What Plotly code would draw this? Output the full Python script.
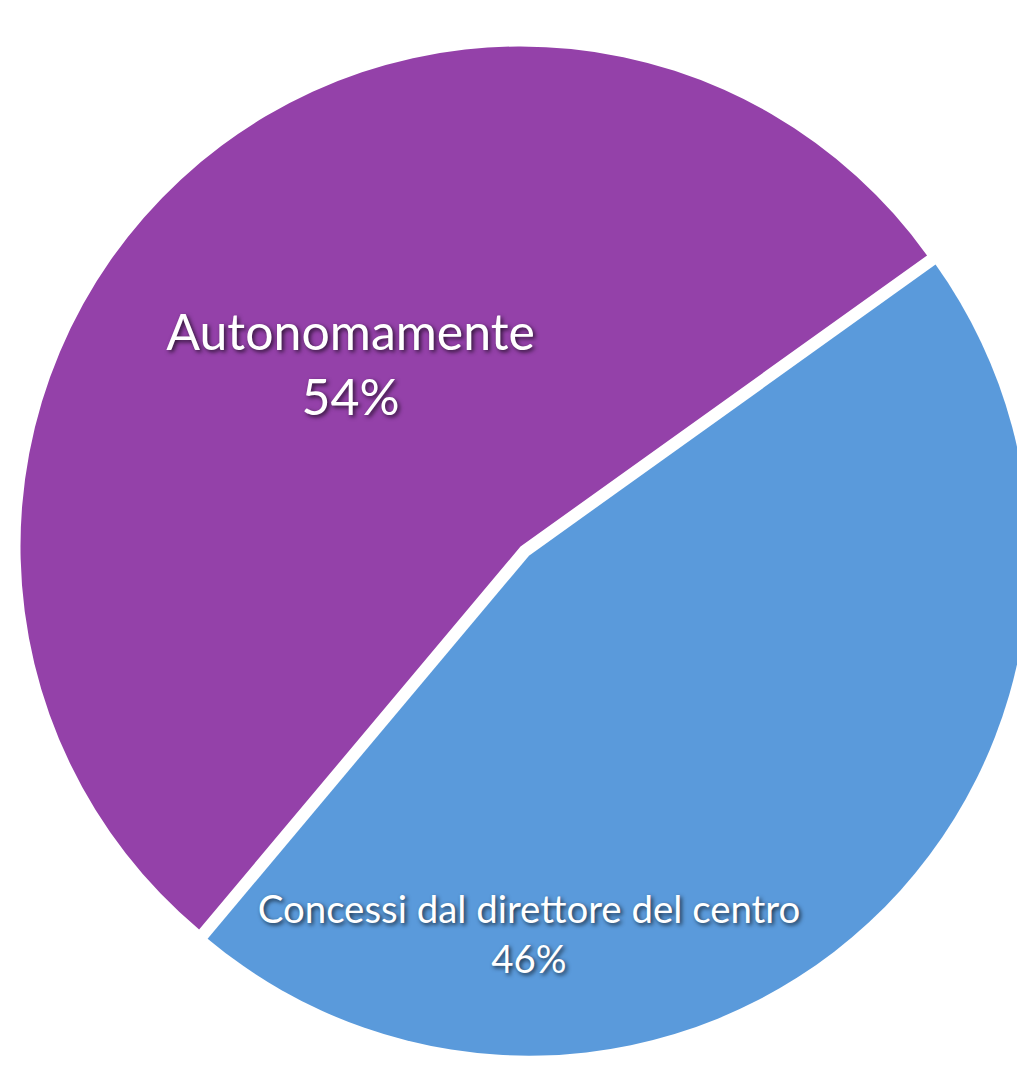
import plotly.graph_objects as go

labels = ["Autonomamente", "Concessi dal direttore del centro"]
values = [54, 46]
colors = ["#9441A9", "#5A9ADB"]

fig = go.Figure(go.Pie(
    labels=labels,
    values=values,
    sort=False,
    direction="clockwise",
    rotation=220,
    pull=[0, 0.025],
    marker=dict(colors=colors, line=dict(color="#4B1552", width=0)),
    texttemplate="%{label}<br>%{percent}",
    textposition="inside",
    insidetextorientation="horizontal",
    textfont=dict(family="Lato, Open Sans, sans-serif", size=50, color="white",
                  shadow="2px 2px 4px rgba(0,0,0,0.7)"),
    showlegend=False,
    hoverinfo="label+percent",
    domain=dict(x=[0, 1], y=[0, 1]),
))

fig.update_layout(
    width=1025, height=1077,
    margin=dict(l=0, r=0, t=0, b=0),
    paper_bgcolor="white",
    plot_bgcolor="white",
)

fig.write_html("out.html")
